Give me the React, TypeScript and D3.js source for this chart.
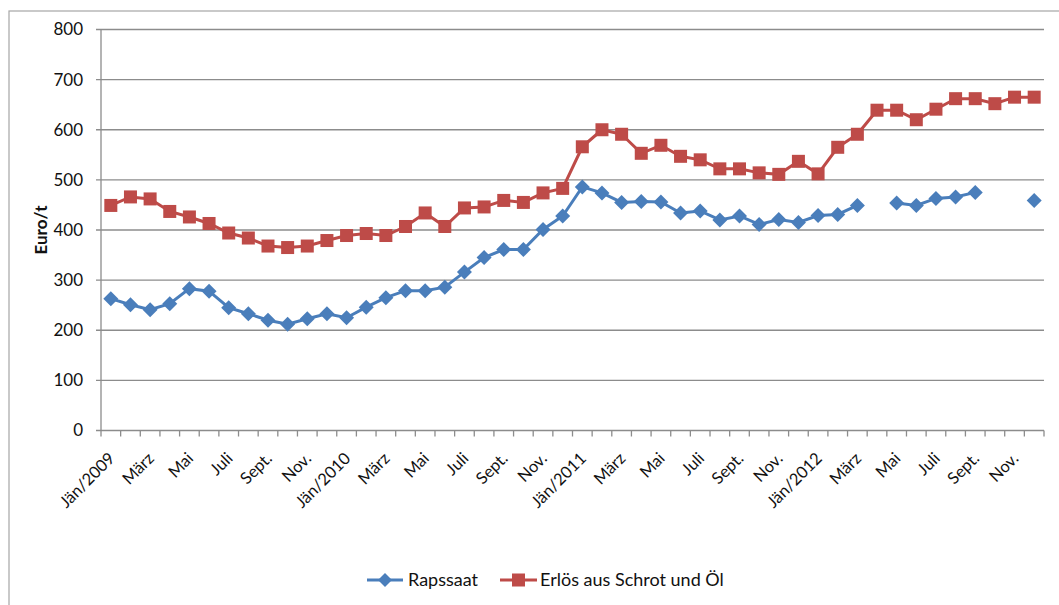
import React from "react";
import * as d3 from "d3";

const months = [
  "Jän/2009","Feb","März","Apr","Mai","Juni","Juli","Aug","Sept.","Okt","Nov.","Dez",
  "Jän/2010","Feb","März","Apr","Mai","Juni","Juli","Aug","Sept.","Okt","Nov.","Dez",
  "Jän/2011","Feb","März","Apr","Mai","Juni","Juli","Aug","Sept.","Okt","Nov.","Dez",
  "Jän/2012","Feb","März","Apr","Mai","Juni","Juli","Aug","Sept.","Okt","Nov.","Dez",
];

const rapssaat: (number | null)[] = [
  263, 251, 241, 253, 283, 278, 245, 233, 220, 212, 223, 233,
  225, 246, 265, 279, 279, 286, 316, 345, 361, 361, 401, 428,
  486, 474, 455, 457, 456, 434, 438, 420, 428, 411, 421, 415,
  429, 431, 449, null, 454, 449, 463, 466, 475, null, null, 459,
];

const erloes: number[] = [
  449, 466, 462, 437, 426, 413, 394, 384, 368, 365, 368, 379,
  389, 393, 389, 407, 434, 407, 444, 446, 459, 455, 474, 483,
  566, 600, 591, 553, 569, 547, 540, 522, 522, 514, 511, 537,
  512, 565, 591, 639, 639, 620, 641, 662, 662, 652, 665, 665,
];

const yTicks = [0, 100, 200, 300, 400, 500, 600, 700, 800];

const BLUE = "#4a7ebb";
const RED = "#be4b48";
const GRID = "#8c8c8c";
const FONT = "Lato, 'Open Sans', sans-serif";

export default function App() {
  const W = 1059, H = 605;
  const left = 101, right = 1044, top = 29.5, bottom = 430.5;
  const n = months.length;
  const xb = d3.scaleLinear().domain([0, n]).range([left, right]);
  const x = (i: number) => xb(i + 0.5);
  const y = d3.scaleLinear().domain([0, 800]).range([bottom, top]);

  const line = d3
    .line<number | null>()
    .defined((d) => d !== null)
    .x((_, i) => x(i))
    .y((d) => y(d as number));

  const diamond = (cx: number, cy: number, r: number) =>
    `M${cx},${cy - r}L${cx + r},${cy}L${cx},${cy + r}L${cx - r},${cy}Z`;

  return (
    <svg
      width={W}
      height={H}
      style={{ position: "absolute", left: 0, top: 0, background: "#fff" }}
      fontFamily={FONT}
    >
      <rect x={9} y={11} width={1100} height={700} fill="#fff" stroke="#a6a6a6" strokeWidth={1.2} />
      {/* gridlines */}
      {yTicks.map((t) => (
        <line key={t} x1={left - 5} x2={right} y1={y(t)} y2={y(t)} stroke={GRID} strokeWidth={1.3} />
      ))}
      {yTicks.map((t) => (
        <text key={"l" + t} x={83} y={y(t)} dy="0.35em" textAnchor="end" fontSize={17} fill="#111">
          {t}
        </text>
      ))}
      {/* y axis */}
      <line x1={left} x2={left} y1={top} y2={bottom} stroke={GRID} strokeWidth={1.3} />
      {/* x ticks */}
      {d3.range(n + 1).map((i) => (
        <line key={"t" + i} x1={xb(i)} x2={xb(i)} y1={bottom} y2={bottom + 6} stroke={GRID} strokeWidth={1.3} />
      ))}
      {months.map((m, i) =>
        i % 2 === 0 ? (
          <text
            key={"m" + i}
            transform={`translate(${x(i) + 5},${bottom + 29}) rotate(-45)`}
            textAnchor="end"
            fontSize={16.5}
            fill="#111"
          >
            {m}
          </text>
        ) : null
      )}
      <text
        transform={`translate(47,${(top + bottom) / 2}) rotate(-90)`}
        textAnchor="middle"
        fontSize={17}
        fontWeight="bold"
        fill="#111"
      >
        Euro/t
      </text>
      {/* series */}
      <path d={line(erloes) || ""} fill="none" stroke={RED} strokeWidth={3} />
      {erloes.map((v, i) => (
        <rect key={"r" + i} x={x(i) - 6.5} y={y(v) - 6.5} width={13} height={13} fill={RED} />
      ))}
      <path d={line(rapssaat) || ""} fill="none" stroke={BLUE} strokeWidth={3} />
      {rapssaat.map((v, i) =>
        v === null ? null : <path key={"d" + i} d={diamond(x(i), y(v), 7.5)} fill={BLUE} />
      )}
      {/* legend */}
      <line x1={367} x2={403} y1={580} y2={580} stroke={BLUE} strokeWidth={3} />
      <path d={diamond(385, 580, 7)} fill={BLUE} />
      <text x={408} y={580} dy="0.35em" fontSize={18} fill="#111">Rapssaat</text>
      <line x1={500} x2={537} y1={580} y2={580} stroke={RED} strokeWidth={3} />
      <rect x={512} y={573.5} width={13} height={13} fill={RED} />
      <text x={540} y={580} dy="0.35em" fontSize={18} fill="#111">Erlös aus Schrot und Öl</text>
    </svg>
  );
}
